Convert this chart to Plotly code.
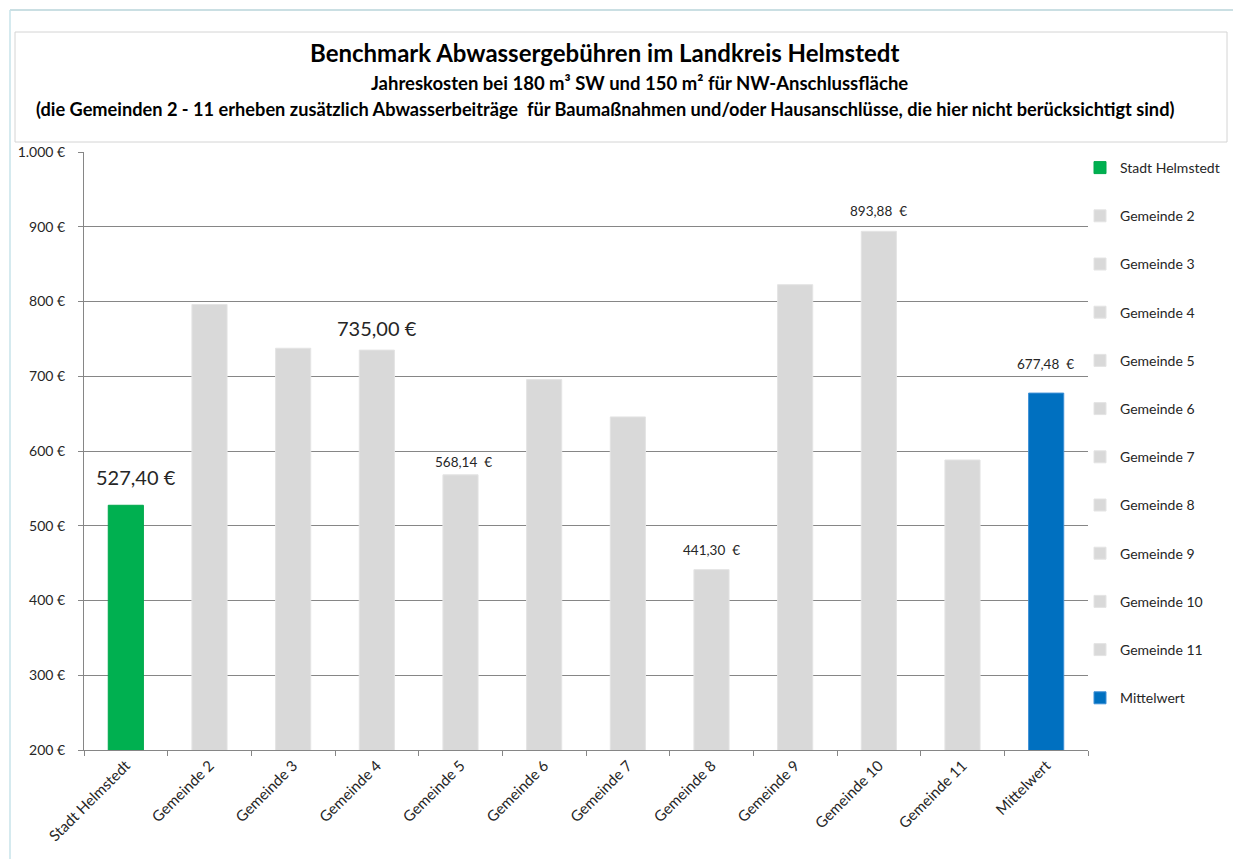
import plotly.graph_objects as go

categories = ["Stadt Helmstedt", "Gemeinde 2", "Gemeinde 3", "Gemeinde 4", "Gemeinde 5",
              "Gemeinde 6", "Gemeinde 7", "Gemeinde 8", "Gemeinde 9", "Gemeinde 10",
              "Gemeinde 11", "Mittelwert"]
values = [527.40, 796.0, 737.5, 735.00, 568.14, 695.6, 645.6, 441.30, 822.5, 893.88, 588.0, 677.48]
show_label = [True, False, False, True, True, False, False, True, False, True, False, True]
y_tickvals = [200, 300, 400, 500, 600, 700, 800, 900, 1000]
y_ticktext = ["200 €", "300 €", "400 €", "500 €", "600 €", "700 €", "800 €", "900 €", "1.000 €"]

title_1 = "Benchmark Abwassergebühren im Landkreis Helmstedt"
title_2 = "Jahreskosten bei 180 m³ SW und 150 m² für NW-Anschlussfläche"
title_3 = ("(die Gemeinden 2 - 11 erheben zusätzlich Abwasserbeiträge  für Baumaßnahmen "
           "und/oder Hausanschlüsse, die hier nicht berücksichtigt sind)")

# styles
GREEN, GREY, BLUE = "#00b050", "#d9d9d9", "#0070c0"
colors = [GREEN] + [GREY] * 10 + [BLUE]
line_colors = ["#00a84c"] + ["#e4e4e4"] * 10 + ["#3d8fd6"]
label_size = [20, 0, 0, 20, 13.5, 0, 0, 13.5, 0, 13.5, 0, 13.5]
label_yshift = [14, 0, 0, 8, 3, 0, 0, 10, 0, 10, 0, 19]
label_xshift = [10, 0, 0, 0, 3, 0, 0, 0, 0, 0, 0, -1]
FONT = "Lato, 'Open Sans', sans-serif"

W, H = 1233, 859
ML, MR, MT, MB = 84, 145, 152, 109


def px_to_paper_x(px):
    return (px - ML) / (W - ML - MR)


def px_to_paper_y(py):
    return 1 - (py - MT) / (H - MT - MB)


fig = go.Figure()
for i, (c, v) in enumerate(zip(categories, values)):
    fig.add_trace(go.Bar(
        x=[c], y=[v], name=c, legendgroup=f"g{i}",
        marker=dict(color=colors[i], line=dict(color=line_colors[i], width=1)),
        width=0.42, hoverinfo="x+y",
    ))


def de_fmt(v):
    s = f"{v:,.2f}"
    return s.replace(",", "X").replace(".", ",").replace("X", ".")


annotations = []
for i, (c, v) in enumerate(zip(categories, values)):
    if not show_label[i]:
        continue
    sep = "\u00a0" if label_size[i] > 14 else "\u00a0\u00a0"
    annotations.append(dict(
        x=c, y=v, xref="x", yref="y", text=de_fmt(v) + sep + "€",
        showarrow=False, yanchor="bottom", xanchor="center",
        yshift=label_yshift[i], xshift=label_xshift[i],
        font=dict(family=FONT, size=label_size[i], color="#262626"),
    ))

# titles
for txt, cx, cy, size in [(title_1, 604, 52, 24), (title_2, 639, 83, 18.5), (title_3, 605, 109, 18.2)]:
    annotations.append(dict(
        x=px_to_paper_x(cx), y=px_to_paper_y(cy), xref="paper", yref="paper",
        text="<b>" + txt + "</b>", showarrow=False, xanchor="center", yanchor="middle",
        font=dict(family=FONT, size=size, color="#000000"),
    ))

shapes = [
    # title box
    dict(type="rect", xref="paper", yref="paper",
         x0=px_to_paper_x(15), x1=px_to_paper_x(1227), y0=px_to_paper_y(142), y1=px_to_paper_y(32),
         line=dict(color="#d4d4d4", width=1), fillcolor="rgba(0,0,0,0)"),
    # outer chart frame (top + left)
    dict(type="line", xref="paper", yref="paper",
         x0=px_to_paper_x(10), x1=px_to_paper_x(1233), y0=px_to_paper_y(10), y1=px_to_paper_y(10),
         line=dict(color="#b9d4da", width=1.5)),
    dict(type="line", xref="paper", yref="paper",
         x0=px_to_paper_x(10), x1=px_to_paper_x(10), y0=px_to_paper_y(10), y1=px_to_paper_y(859),
         line=dict(color="#c7e3ea", width=1.5)),
]

fig.update_layout(
    width=W, height=H,
    margin=dict(l=ML, r=MR, t=MT, b=MB, autoexpand=False),
    paper_bgcolor="white", plot_bgcolor="white",
    barmode="overlay",
    showlegend=True,
    legend=dict(x=px_to_paper_x(1080), y=px_to_paper_y(152), xanchor="left", yanchor="top",
                font=dict(family=FONT, size=14, color="#262626"),
                tracegroupgap=27, itemclick=False, bgcolor="rgba(0,0,0,0)"),
    font=dict(family=FONT, size=14, color="#262626"),
    annotations=annotations,
    shapes=shapes,
    xaxis=dict(
        type="category", categoryorder="array", categoryarray=categories,
        range=[-0.5, len(categories) - 0.5],
        showline=True, linecolor="#868686", linewidth=1,
        ticks="outside", tickson="boundaries", ticklen=5, tickcolor="#868686",
        tickangle=-45, showgrid=False,
        tickfont=dict(family=FONT, size=15, color="#262626"),
    ),
    yaxis=dict(
        range=[200, 1000], tickvals=y_tickvals, ticktext=y_ticktext,
        showline=True, linecolor="#868686", linewidth=1,
        ticks="outside", ticklen=5, tickcolor="#868686",
        showgrid=True, gridcolor="#868686", gridwidth=1,
        zeroline=False, ticklabelstandoff=10,
        tickfont=dict(family=FONT, size=14, color="#262626"),
    ),
)

fig.write_html("out.html", config={"displayModeBar": False},
               post_script="document.body.style.margin='0';")
